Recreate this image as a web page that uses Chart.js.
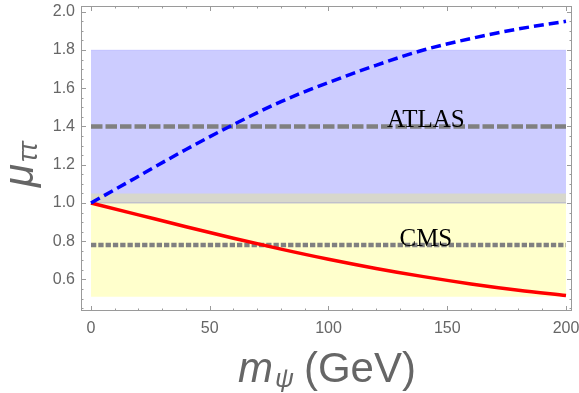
<!DOCTYPE html>
<html>
<head>
<meta charset="utf-8">
<script src="https://cdn.jsdelivr.net/npm/chart.js@4.4.1/dist/chart.umd.min.js"></script>
<style>
  html, body { margin: 0; padding: 0; background: #fff; }
  #wrap { width: 579px; height: 393px; }
</style>
</head>
<body>
<div id="wrap"><canvas id="chart" width="579" height="393"></canvas></div>
<script>
// m_psi in GeV
const mPsi = [0, 20, 40, 60, 80, 100, 120, 140, 160, 180, 200];
// mu_tautau, the two curves
const muUp = [1.0, 1.14, 1.28, 1.41, 1.53, 1.63, 1.72, 1.80, 1.86, 1.91, 1.95];
const muDown = [1.0, 0.938, 0.876, 0.816, 0.759, 0.706, 0.658, 0.615, 0.577, 0.544, 0.516];
// measurements: central value and band
const atlasMu = 1.4;
const atlasBand = [1.0, 1.8];
const cmsMu = 0.78;
const cmsBand = [0.51, 1.05];
const bandRange = [0, 200];
const labelAt = 141;
const xTicks = [0, 50, 100, 150, 200];
const yTicks = [0.6, 0.8, 1.0, 1.2, 1.4, 1.6, 1.8, 2.0];

const axisGray = "#666666";
const frameGray = "#9a9a9a";

function flat(v) {
    return bandRange.map(x => ({ x: x, y: v }));
}

// frame with inward ticks, axis titles and ATLAS/CMS labels
const decorPlugin = {
    id: "decor",
    afterDatasetsDraw(chart) {
        const ctx = chart.ctx;
        const x = chart.scales.x, y = chart.scales.y;
        ctx.save();
        ctx.fillStyle = "#000";
        ctx.font = "25px 'Liberation Serif'";
        ctx.textAlign = "center";
        ctx.textBaseline = "alphabetic";
        ctx.fillText("ATLAS", x.getPixelForValue(labelAt), y.getPixelForValue(atlasMu) + 1);
        ctx.fillText("CMS", x.getPixelForValue(labelAt), y.getPixelForValue(cmsMu) + 1);
        ctx.restore();
    },
    afterDraw(chart) {
        const ctx = chart.ctx;
        const a = chart.chartArea;
        const x = chart.scales.x, y = chart.scales.y;
        ctx.save();
        ctx.strokeStyle = frameGray;
        ctx.lineWidth = 1;
        ctx.strokeRect(Math.round(a.left) + 0.5, Math.round(a.top) + 0.5,
            Math.round(a.right - a.left) - 1, Math.round(a.bottom - a.top) - 1);

        ctx.beginPath();
        for (let i = 9; i <= 40; i++) {
            const len = i % 4 === 0 ? 5 : 2.5;
            const py = Math.round(y.getPixelForValue(i * 0.05)) + 0.5;
            ctx.moveTo(a.left, py); ctx.lineTo(a.left + len, py);
            ctx.moveTo(a.right, py); ctx.lineTo(a.right - len, py);
        }
        for (let v = 0; v <= 200; v += 10) {
            const len = v % 50 === 0 ? 5 : 2.5;
            const px = Math.round(x.getPixelForValue(v)) + 0.5;
            ctx.moveTo(px, a.bottom); ctx.lineTo(px, a.bottom - len);
            ctx.moveTo(px, a.top); ctx.lineTo(px, a.top + len);
        }
        ctx.stroke();

        // x title: m_psi (GeV)
        ctx.fillStyle = axisGray;
        ctx.textBaseline = "alphabetic";
        ctx.textAlign = "left";
        let cx = 238;
        ctx.font = "italic 42px 'Liberation Sans'";
        ctx.fillText("m", cx, 382);
        cx += ctx.measureText("m").width + 2;
        ctx.font = "italic 26px 'Liberation Sans'";
        ctx.fillText("ψ", cx, 387);
        cx += ctx.measureText("ψ").width + 10;
        ctx.font = "42px 'Liberation Sans'";
        ctx.fillText("(GeV)", cx, 382);

        // y title: mu_tautau
        ctx.translate(33, 187);
        ctx.rotate(-Math.PI / 2);
        ctx.font = "italic 42px 'Liberation Sans'";
        ctx.fillText("μ", 0, 0);
        const w = ctx.measureText("μ").width;
        ctx.font = "italic 27px 'Liberation Sans'";
        ctx.fillText("ττ", w + 2, 4);
        ctx.restore();
    }
};

const ctx = document.getElementById("chart").getContext("2d");
new Chart(ctx, {
    type: "line",
    data: {
        datasets: [
            {
                label: "mu up",
                data: mPsi.map((m, i) => ({ x: m, y: muUp[i] })),
                borderColor: "#0000ff",
                borderWidth: 3.5,
                borderDash: [10, 5],
                cubicInterpolationMode: "monotone",
                pointRadius: 0,
                fill: false,
                order: 1
            },
            {
                label: "mu down",
                data: mPsi.map((m, i) => ({ x: m, y: muDown[i] })),
                borderColor: "#ff0000",
                borderWidth: 3.5,
                cubicInterpolationMode: "monotone",
                pointRadius: 0,
                fill: false,
                order: 2
            },
            {
                label: "ATLAS",
                data: flat(atlasMu),
                borderColor: "#808080",
                borderWidth: 4.5,
                borderDash: [11.5, 3],
                pointRadius: 0,
                fill: false,
                order: 3
            },
            {
                label: "CMS",
                data: flat(cmsMu),
                borderColor: "#808080",
                borderWidth: 4.5,
                borderDash: [5.3, 2],
                pointRadius: 0,
                fill: false,
                order: 3
            },
            {
                label: "ATLAS low edge",
                data: flat(atlasBand[0]),
                borderColor: "rgba(90,90,200,0.35)",
                borderWidth: 1,
                pointRadius: 0,
                fill: false,
                order: 4
            },
            {
                label: "CMS band",
                data: flat(cmsBand[1]),
                borderWidth: 0,
                borderColor: "rgba(0,0,0,0)",
                backgroundColor: "rgba(255,255,0,0.2)",
                pointRadius: 0,
                fill: { value: cmsBand[0] },
                order: 5
            },
            {
                label: "ATLAS band",
                data: flat(atlasBand[1]),
                borderWidth: 1,
                borderColor: "rgba(0,0,255,0.08)",
                backgroundColor: "rgba(0,0,255,0.2)",
                pointRadius: 0,
                fill: { value: atlasBand[0] },
                order: 6
            }
        ]
    },
    options: {
        responsive: false,
        animation: false,
        events: [],
        layout: { padding: { top: 6, right: 7, left: 0, bottom: 0 } },
        plugins: {
            legend: { display: false },
            tooltip: { enabled: false }
        },
        scales: {
            x: {
                type: "linear",
                min: -4.21,
                max: 202.53,
                afterFit: s => {
                    s.height = 82;
                    s.paddingLeft = 0;
                    s.paddingRight = 0;
                },
                afterBuildTicks: s => { s.ticks = xTicks.map(v => ({ value: v })); },
                grid: { display: false, drawTicks: false },
                border: { display: false },
                ticks: {
                    color: axisGray,
                    font: { family: "Liberation Sans", size: 16 },
                    padding: 8,
                    maxRotation: 0
                }
            },
            y: {
                type: "linear",
                min: 0.4353,
                max: 2.030,
                afterFit: s => {
                    s.width = 81;
                    s.paddingTop = 0;
                    s.paddingBottom = 0;
                },
                afterBuildTicks: s => { s.ticks = yTicks.map(v => ({ value: v })); },
                grid: { display: false, drawTicks: false },
                border: { display: false },
                ticks: {
                    color: axisGray,
                    font: { family: "Liberation Sans", size: 16 },
                    padding: 6,
                    callback: v => v.toFixed(1)
                }
            }
        }
    },
    plugins: [decorPlugin]
});
</script>
</body>
</html>
